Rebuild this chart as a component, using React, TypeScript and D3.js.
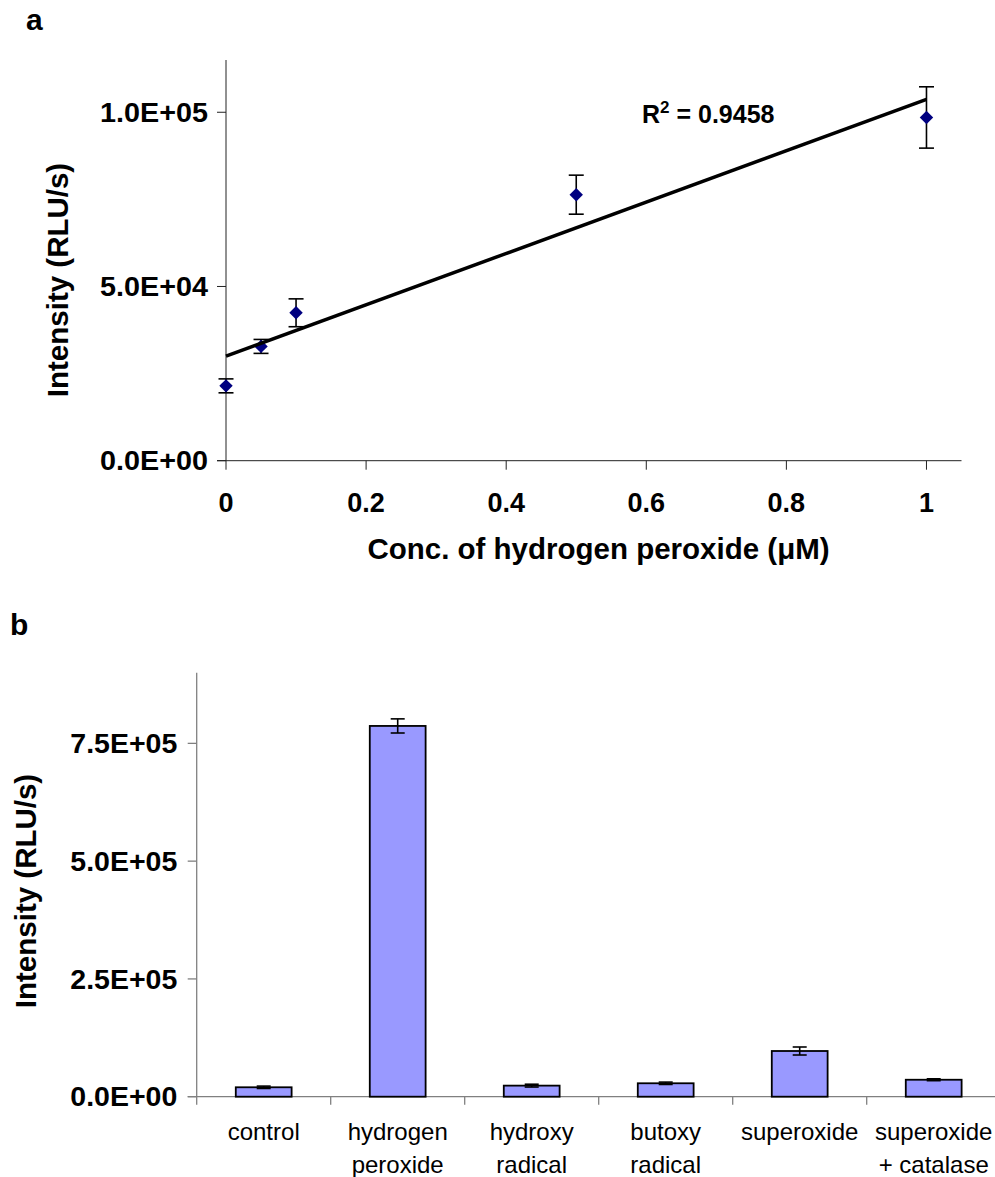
import React, { useEffect, useRef } from 'react'
import * as d3 from 'd3'

// panel a - calibration with hydrogen peroxide
const concentrations = [0, 0.05, 0.1, 0.5, 1]
const intensities = [21480, 32800, 42450, 76350, 98510]
const intensityErrors = [2000, 2000, 4000, 5600, 8800]
const xTicksA = [0, 0.2, 0.4, 0.6, 0.8, 1]
const yTicksA = [0, 50000, 100000]
const r2Value = '0.9458'

// panel b - response to different ROS
const species = [
  ['control'],
  ['hydrogen', 'peroxide'],
  ['hydroxy', 'radical'],
  ['butoxy', 'radical'],
  ['superoxide'],
  ['superoxide', '+ catalase']
]
const speciesIntensity = [20000, 787000, 23500, 28500, 97000, 36000]
const speciesErrors = [2500, 15000, 3000, 2500, 8500, 2000]
const yTicksB = [0, 250000, 500000, 750000]

const W = 995
const H = 1177
const FONT = 'Arial, "Liberation Sans", sans-serif'

// Excel style scientific label, e.g. 5.0E+04
const sci = (v: number) => {
  if (v === 0) return '0.0E+00'
  const e = Math.floor(Math.log10(v))
  const m = v / 10 ** e
  return `${m.toFixed(1)}E+${String(e).padStart(2, '0')}`
}

const App = () => {
  const svgRef = useRef<SVGSVGElement>(null)

  useEffect(() => {
    if (!svgRef.current) return
    const svg = d3.select(svgRef.current)
    svg.selectAll('*').remove()
    svg.style('font-family', FONT)

    // ---------- panel a ----------
    const x = d3.scaleLinear().domain([0, 1.05]).range([226, 961.5])
    const y = d3.scaleLinear().domain([0, 115000]).range([460.7, 60])
    const a = svg.append('g')

    a.append('text').attr('x', 26).attr('y', 30).attr('font-size', 30).attr('font-weight', 'bold').text('a')

    // axis lines
    a.append('line')
      .attr('x1', x(0)).attr('x2', x(0))
      .attr('y1', y.range()[1]).attr('y2', y(0))
      .attr('stroke', '#222').attr('stroke-width', 1)
    a.append('line')
      .attr('x1', x(0) - 9).attr('x2', x.range()[1])
      .attr('y1', y(0)).attr('y2', y(0))
      .attr('stroke', '#222').attr('stroke-width', 1)

    // y ticks
    a.selectAll('.yt').data(yTicksA).enter().append('line')
      .attr('x1', x(0) - 9).attr('x2', x(0))
      .attr('y1', (d) => y(d)).attr('y2', (d) => y(d))
      .attr('stroke', '#222')
    a.selectAll('.yl').data(yTicksA).enter().append('text')
      .attr('x', 204 + 4).attr('y', (d) => y(d) + 9.7)
      .attr('text-anchor', 'end')
      .attr('font-size', 27).attr('font-weight', 'bold')
      .attr('textLength', 108).attr('lengthAdjust', 'spacingAndGlyphs')
      .text((d) => sci(d))

    // x ticks
    a.selectAll('.xt').data(xTicksA).enter().append('line')
      .attr('x1', (d) => x(d)).attr('x2', (d) => x(d))
      .attr('y1', y(0)).attr('y2', y(0) + 9)
      .attr('stroke', '#222')
    a.selectAll('.xl').data(xTicksA).enter().append('text')
      .attr('x', (d) => x(d)).attr('y', 512)
      .attr('text-anchor', 'middle')
      .attr('font-size', 27).attr('font-weight', 'bold')
      .text((d) => String(d))

    // axis titles
    a.append('text')
      .attr('transform', 'translate(68,280) rotate(-90)')
      .attr('text-anchor', 'middle')
      .attr('font-size', 29.5).attr('font-weight', 'bold')
      .text('Intensity (RLU/s)')
    a.append('text')
      .attr('x', 598.5).attr('y', 559)
      .attr('text-anchor', 'middle')
      .attr('font-size', 29.5).attr('font-weight', 'bold')
      .text('Conc. of hydrogen peroxide (\u03bcM)')

    // error bars
    const pts = concentrations.map((c, i) => ({ c, v: intensities[i], e: intensityErrors[i] }))
    const eb = a.selectAll('.eb').data(pts).enter().append('g')
    eb.append('line')
      .attr('x1', (d) => x(d.c)).attr('x2', (d) => x(d.c))
      .attr('y1', (d) => y(d.v - d.e)).attr('y2', (d) => y(d.v + d.e))
      .attr('stroke', '#000').attr('stroke-width', 1.6)
    eb.append('line')
      .attr('x1', (d) => x(d.c) - 7.5).attr('x2', (d) => x(d.c) + 7.5)
      .attr('y1', (d) => y(d.v - d.e)).attr('y2', (d) => y(d.v - d.e))
      .attr('stroke', '#000').attr('stroke-width', 1.6)
    eb.append('line')
      .attr('x1', (d) => x(d.c) - 7.5).attr('x2', (d) => x(d.c) + 7.5)
      .attr('y1', (d) => y(d.v + d.e)).attr('y2', (d) => y(d.v + d.e))
      .attr('stroke', '#000').attr('stroke-width', 1.6)

    // diamond markers
    const diamond = d3.symbol().type(d3.symbolSquare).size(90)
    a.selectAll('.pt').data(pts).enter().append('path')
      .attr('d', diamond)
      .attr('transform', (d) => `translate(${x(d.c)},${y(d.v)}) rotate(45)`)
      .attr('fill', '#000080')

    // linear trendline (least squares)
    const mx = d3.mean(concentrations) as number
    const my = d3.mean(intensities) as number
    const slope =
      d3.sum(concentrations, (c, i) => (c - mx) * (intensities[i] - my)) /
      d3.sum(concentrations, (c) => (c - mx) ** 2)
    const intercept = my - slope * mx
    const ext = d3.extent(concentrations) as [number, number]
    const trend = d3.line<number>().x((c) => x(c)).y((c) => y(intercept + slope * c))
    a.append('path')
      .attr('d', trend(ext))
      .attr('fill', 'none')
      .attr('stroke', '#000').attr('stroke-width', 3.5)

    const r2 = a.append('text')
      .attr('x', 642).attr('y', 122.7)
      .attr('font-size', 25).attr('font-weight', 'bold')
    r2.append('tspan').text('R')
    r2.append('tspan').attr('dy', -10).attr('font-size', 17).text('2')
    r2.append('tspan').attr('dy', 10).text(` = ${r2Value}`)

    // ---------- panel b ----------
    const keys = species.map((s) => s.join(' '))
    const xb = d3.scaleBand().domain(keys).range([196.7, 1000.7]).padding(0)
    const yb = d3.scaleLinear().domain([0, 900000]).range([1096.7, 672.7])
    const b = svg.append('g')
    const bw = xb.bandwidth() / 2.4

    b.append('text').attr('x', 10).attr('y', 635).attr('font-size', 30).attr('font-weight', 'bold').text('b')

    b.append('line')
      .attr('x1', xb.range()[0]).attr('x2', xb.range()[0])
      .attr('y1', yb.range()[1]).attr('y2', yb(0))
      .attr('stroke', '#808080').attr('stroke-width', 1.3)
    b.append('line')
      .attr('x1', xb.range()[0] - 9).attr('x2', xb.range()[1])
      .attr('y1', yb(0)).attr('y2', yb(0))
      .attr('stroke', '#808080').attr('stroke-width', 1.3)

    b.selectAll('.yt').data(yTicksB).enter().append('line')
      .attr('x1', xb.range()[0] - 9).attr('x2', xb.range()[0])
      .attr('y1', (d) => yb(d)).attr('y2', (d) => yb(d))
      .attr('stroke', '#808080').attr('stroke-width', 1.3)
    b.selectAll('.yl').data(yTicksB).enter().append('text')
      .attr('x', 173.3 + 4).attr('y', (d) => yb(d) + 9.7)
      .attr('text-anchor', 'end')
      .attr('font-size', 27).attr('font-weight', 'bold')
      .attr('textLength', 107).attr('lengthAdjust', 'spacingAndGlyphs')
      .text((d) => sci(d))

    // category boundary ticks
    const bounds = [...keys.map((k) => xb(k) as number), xb.range()[1]]
    b.selectAll('.xt').data(bounds).enter().append('line')
      .attr('x1', (d) => d).attr('x2', (d) => d)
      .attr('y1', yb(0)).attr('y2', yb(0) + 8)
      .attr('stroke', '#808080').attr('stroke-width', 1.3)

    b.append('text')
      .attr('transform', 'translate(36,891) rotate(-90)')
      .attr('text-anchor', 'middle')
      .attr('font-size', 29.5).attr('font-weight', 'bold')
      .text('Intensity (RLU/s)')

    const bars = keys.map((k, i) => ({ k, lines: species[i], v: speciesIntensity[i], e: speciesErrors[i] }))
    const cx = (k: string) => (xb(k) as number) + xb.bandwidth() / 2

    b.selectAll('.bar').data(bars).enter().append('rect')
      .attr('x', (d) => cx(d.k) - bw / 2)
      .attr('width', bw)
      .attr('y', (d) => yb(d.v))
      .attr('height', (d) => yb(0) - yb(d.v))
      .attr('fill', '#9999FF')
      .attr('stroke', '#000').attr('stroke-width', 1.8)

    const ebb = b.selectAll('.eb').data(bars).enter().append('g')
    ebb.append('line')
      .attr('x1', (d) => cx(d.k)).attr('x2', (d) => cx(d.k))
      .attr('y1', (d) => yb(d.v - d.e)).attr('y2', (d) => yb(d.v + d.e))
      .attr('stroke', '#000').attr('stroke-width', 1.6)
    ebb.append('line')
      .attr('x1', (d) => cx(d.k) - 7).attr('x2', (d) => cx(d.k) + 7)
      .attr('y1', (d) => yb(d.v - d.e)).attr('y2', (d) => yb(d.v - d.e))
      .attr('stroke', '#000').attr('stroke-width', 1.6)
    ebb.append('line')
      .attr('x1', (d) => cx(d.k) - 7).attr('x2', (d) => cx(d.k) + 7)
      .attr('y1', (d) => yb(d.v + d.e)).attr('y2', (d) => yb(d.v + d.e))
      .attr('stroke', '#000').attr('stroke-width', 1.6)

    // category labels (one or two lines)
    const lbl = b.selectAll('.cl').data(bars).enter().append('text')
      .attr('text-anchor', 'middle')
      .attr('font-size', 24)
    lbl.selectAll('tspan').data((d) => d.lines.map((t) => ({ t, k: d.k }))).enter().append('tspan')
      .attr('x', (d) => cx(d.k))
      .attr('y', (_d, i) => 1140 + i * 33)
      .text((d) => d.t)
  }, [])

  return (
    <div style={{ position: 'absolute', left: 0, top: 0, background: '#fff' }}>
      <svg ref={svgRef} width={W} height={H} style={{ display: 'block' }}></svg>
    </div>
  )
}

export default App
